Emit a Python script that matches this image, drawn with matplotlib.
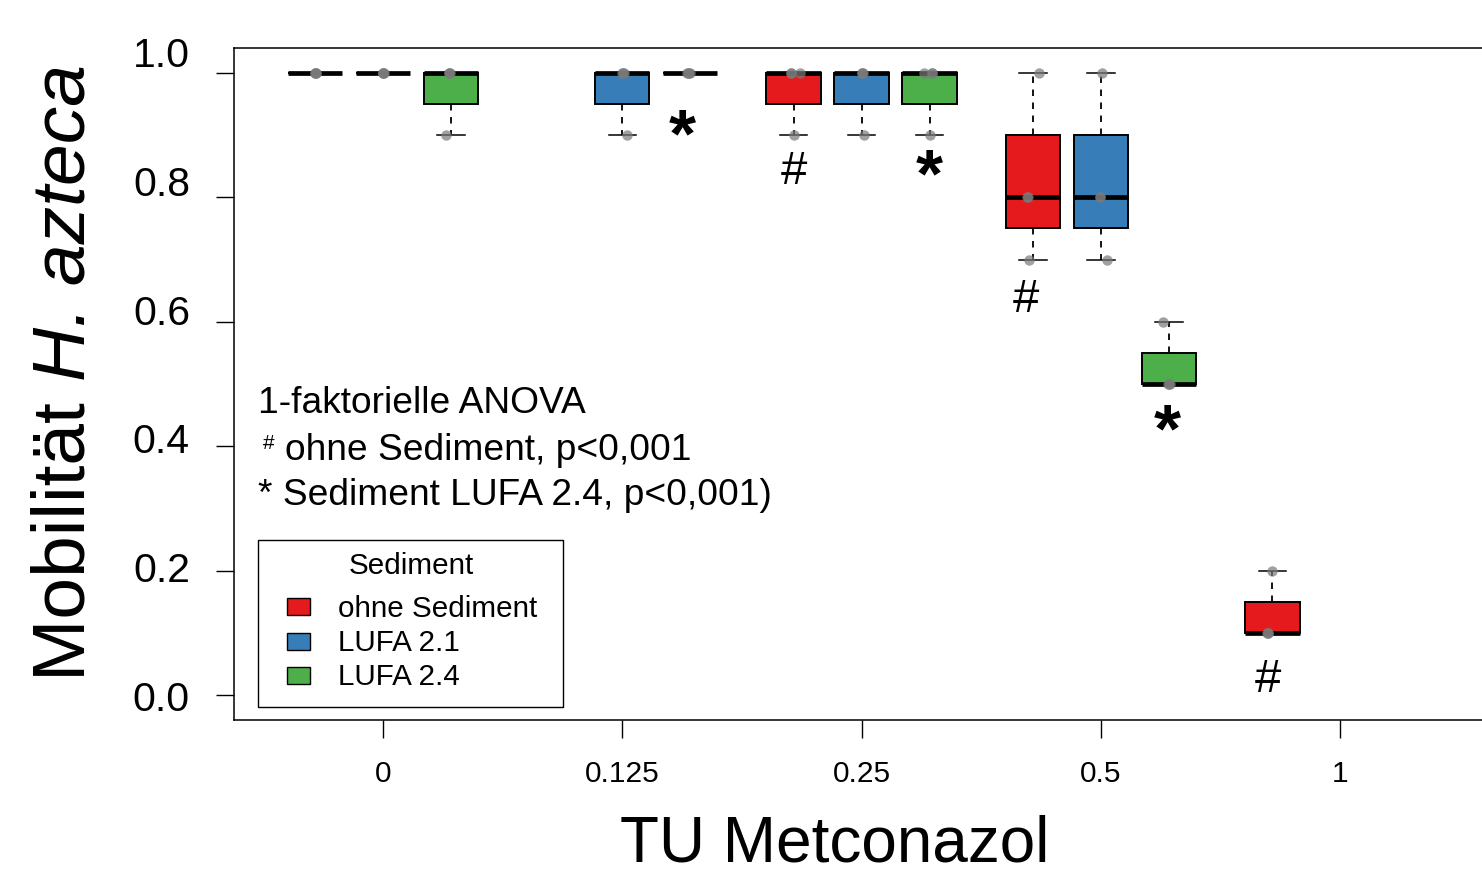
import numpy as np
import matplotlib.pyplot as plt
from matplotlib.patches import Rectangle
from matplotlib.transforms import blended_transform_factory

plt.rcParams.update({'font.family': 'Liberation Sans'})

# TU Metconazol groups and sediments
tu_labels = ["0", "0.125", "0.25", "0.5", "1"]
sediments = ["ohne Sediment", "LUFA 2.1", "LUFA 2.4"]
colors = ["#E41A1C", "#377EB8", "#4DAF4A"]
y_ticks = [0.0, 0.2, 0.4, 0.6, 0.8, 1.0]

# replicate mobility per group (rows) and sediment (cols); None = no data
mobility = [
    [[1.0, 1.0, 1.0, 1.0], [1.0, 1.0, 1.0, 1.0], [0.9, 1.0, 1.0, 1.0]],
    [None,                 [0.9, 1.0, 1.0, 1.0], [1.0, 1.0, 1.0, 1.0]],
    [[0.9, 1.0, 1.0, 1.0], [0.9, 1.0, 1.0, 1.0], [0.9, 1.0, 1.0, 1.0]],
    [[0.7, 0.8, 0.8, 1.0], [0.7, 0.8, 0.8, 1.0], [0.5, 0.5, 0.5, 0.6]],
    [[0.1, 0.1, 0.1, 0.2], None,                 None],
]
# horizontal jitter of the replicate dots (box units)
jitter = [
    [[0.01, 0.0, 0.02, 0.0], [0.0, 0.0, 0.01, 0.0], [-0.07, -0.03, -0.02, -0.03]],
    [None, [0.07, 0.01, 0.02, 0.0], [-0.05, -0.02, 0.0, -0.03]],
    [[0.0, -0.04, 0.1, -0.04], [0.04, 0.01, 0.0, 0.02], [0.0, -0.09, 0.04, 0.04]],
    [[-0.06, -0.09, -0.08, 0.09], [0.09, -0.02, -0.01, 0.01], [0.0, 0.01, -0.01, -0.09]],
    [[-0.08, -0.06, -0.07, 0.0], None, None],
]

# significance markers: (group, sediment, symbol, x shift, y)
signif = [(1, 2, "*", -0.12, 0.895), (2, 0, "#", 0.0, 0.84), (2, 2, "*", 0.0, 0.83),
          (3, 0, "#", -0.1, 0.635), (3, 2, "*", -0.03, 0.42), (4, 0, "#", -0.06, 0.025)]

group_step = 3.52
offsets = [-1, 0, 1]
W, H = 1482, 882


def hinges(v):
    v = np.sort(np.asarray(v, dtype=float))
    n = len(v)
    n4 = np.floor((n + 3) / 2) / 2
    d = np.array([1, n4, (n + 1) / 2, n + 1 - n4, n]) - 1
    return 0.5 * (v[np.floor(d).astype(int)] + v[np.ceil(d).astype(int)])


def fx(px):
    return px / W


def fy(py):
    return 1 - py / H


fig = plt.figure(figsize=(W / 100, H / 100), dpi=100)
ax = fig.add_axes([fx(234), fy(720), 1256 / W, 672 / H])

for g in range(len(tu_labels)):
    for s in range(3):
        vals = mobility[g][s]
        if vals is None:
            continue
        x = g * group_step + offsets[s]
        lo, q1, med, q3, hi = hinges(vals)
        iqr = q3 - q1
        arr = np.asarray(vals)
        wlo = arr[arr >= q1 - 1.5 * iqr].min()
        whi = arr[arr <= q3 + 1.5 * iqr].max()
        stats = [dict(med=med, q1=q1, q3=q3, whislo=wlo, whishi=whi, fliers=[])]
        ax.bxp(stats, positions=[x], widths=0.8, patch_artist=True,
               capwidths=0.4,
               boxprops=dict(facecolor=colors[s], edgecolor='black', linewidth=1.4),
               medianprops=dict(color='black', linewidth=3.4, solid_capstyle='butt'),
               whiskerprops=dict(color='black', linewidth=1.3, linestyle=(0, (3.6, 3.6))),
               capprops=dict(color='black', linewidth=1.1))
        ax.plot(x + np.asarray(jitter[g][s]), vals, 'o', color='#7a7a7a',
                alpha=0.7, markersize=7.5, markeredgewidth=0, zorder=5)

for g, s, sym, dx, y in signif:
    x = g * group_step + offsets[s] + dx
    if sym == "*":
        ax.text(x, y, sym, fontsize=50, fontweight='bold', ha='center', va='center')
    else:
        ax.text(x, y, sym, fontsize=34, ha='center', va='center')

ax.set_xlim(-2.19, 16.28)
ax.set_ylim(-0.04, 1.04)
ax.set_xticks(np.arange(len(tu_labels)) * group_step)
ax.set_xticklabels(tu_labels, fontsize=21.5)
ax.set_yticks(y_ticks)
ax.set_yticklabels([])
ax.tick_params(axis='x', length=13, width=1.0, pad=16)
ax.tick_params(axis='y', length=13, width=1.0)
for sp in ax.spines.values():
    sp.set_linewidth(1.1)

# y tick labels sit slightly spread out, as in the original device output
trans = blended_transform_factory(ax.transAxes, ax.transData)
for v in y_ticks:
    ax.text((190 - 234) / 1256, v * 1.035 - 0.008, f"{v:.1f}", transform=trans,
            ha='right', va='center', fontsize=29.5, clip_on=False)

# y label: upright "Mobilität" followed by italic species name
t1 = fig.text(fx(65), fy(681), "Mobilität ", rotation=90, rotation_mode='anchor',
              ha='left', va='center', fontsize=54)
fig.canvas.draw()
ext = t1.get_window_extent()
fig.text(fx(65), ext.y1 / H, "H. azteca", rotation=90, rotation_mode='anchor',
         ha='left', va='center', fontsize=54, style='italic')

fig.text(fx(835), fy(845), "TU Metconazol", ha='center', va='center', fontsize=46)

fig.text(fx(258), fy(413), "1-faktorielle ANOVA", fontsize=26.7, va='baseline')
fig.text(fx(263), fy(449), "#", fontsize=15, va='baseline')
fig.text(fx(285), fy(460), "ohne Sediment, p<0,001", fontsize=26.7, va='baseline')
fig.text(fx(258), fy(505), "* Sediment LUFA 2.4, p<0,001)", fontsize=26.7, va='baseline')

# legend box
fig.add_artist(Rectangle((fx(258), fy(707)), (563 - 258) / W, (707 - 540) / H,
                         transform=fig.transFigure, facecolor='white',
                         edgecolor='black', linewidth=1.0, zorder=10))
fig.text(fx(411), fy(574), "Sediment", fontsize=21.3, ha='center', va='baseline', zorder=11)
for i, (lab, c) in enumerate(zip(sediments, colors)):
    top = 598 + i * 34.5
    fig.add_artist(Rectangle((fx(287), fy(top + 17)), 23 / W, 17 / H,
                             transform=fig.transFigure, facecolor=c,
                             edgecolor='black', linewidth=1.0, zorder=11))
    fig.text(fx(338), fy(617 + i * 34), lab, fontsize=21.3, va='baseline', zorder=11)

fig.savefig("out.png", dpi=100)
